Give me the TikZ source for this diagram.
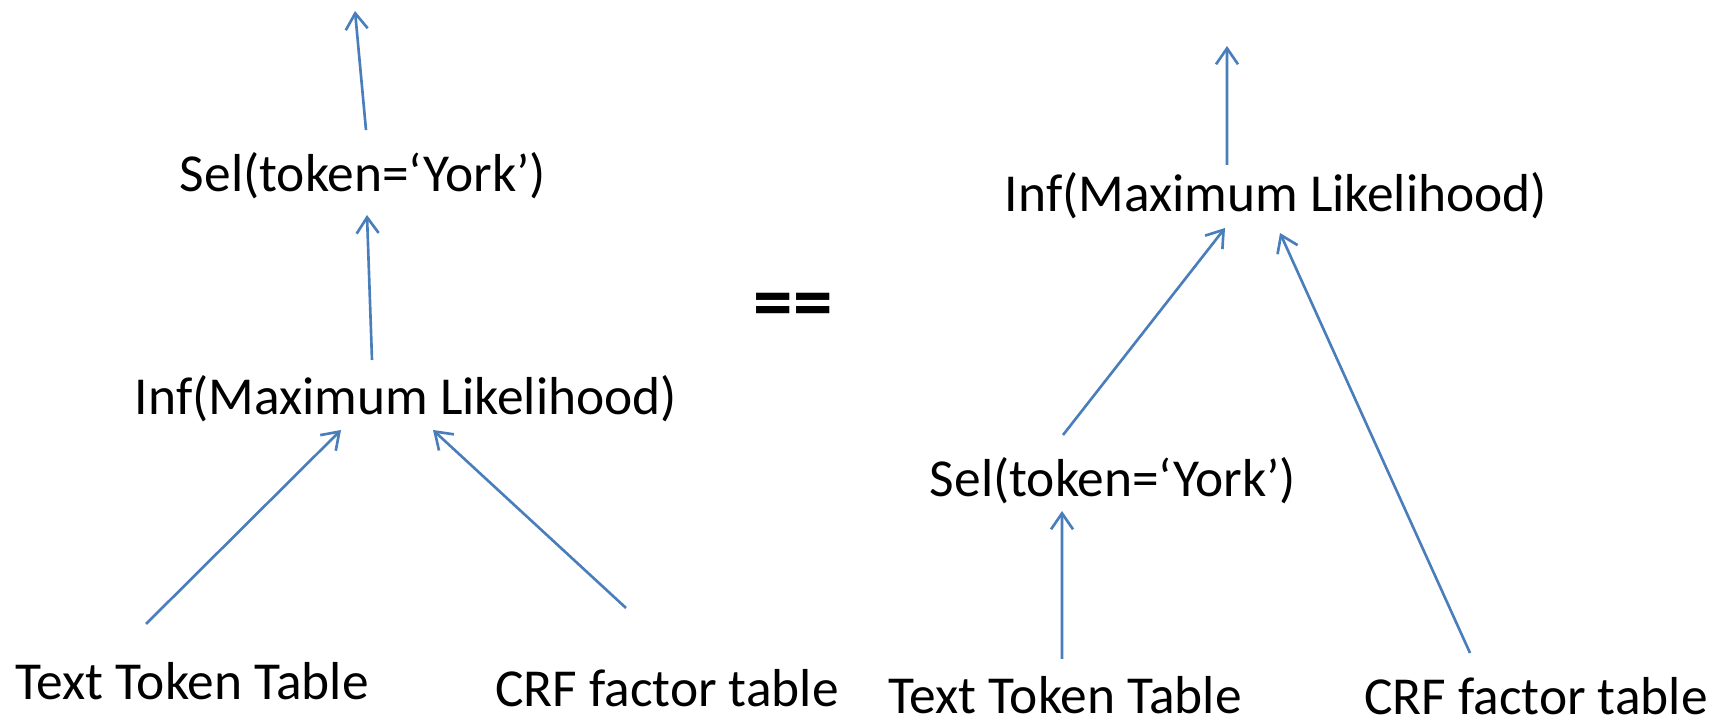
\documentclass[tikz,border=0pt]{standalone}
\usepackage{fontspec}
\setmainfont{Carlito}
\usepackage{tikz}
\usetikzlibrary{arrows.meta,calc}
\usepackage{xcolor}
\definecolor{planblue}{RGB}{74,126,187}
\tikzset{
  % ---- operators and tables ---------------------------------------------
  op/.style={font=\fontsize{15.2}{18}\selectfont, text=black, inner sep=0pt},
  tbl/.style={op},
  eqsign/.style={font=\bfseries\fontsize{22.5}{26}\selectfont, text=black, inner sep=0pt},
  % ---- arrows -----------------------------------------------------------
  ar/.style={-{Straight Barb[length=1.6mm,width=2.2mm]}, draw=planblue, line width=0.75pt},
}

\begin{document}
\begin{tikzpicture}[x=1cm,y=1cm]
\useasboundingbox (0,0) rectangle (17.27,-7.23);

% ============================ LEFT: select after inference ===============
\node[op]  (lsel)  at (3.63,-1.76) {Sel(token=‘York’)};
\node[op]  (linf)  at (4.06,-3.99) {Inf(Maximum Likelihood)};
\node[tbl] (ltext) at (1.92,-6.81) {Text Token Table};
\node[tbl] (lcrf)  at (6.67,-6.88) {CRF factor table};
\coordinate (ltop) at (3.55,-0.11);

\draw[ar] ($(lsel)+(0.03,0.46)$) -- (ltop);
\draw[ar] ($(linf)+(-0.34,0.39)$) -- ($(lsel)+(0.04,-0.39)$);
\draw[ar] ($(ltext)+(-0.46,0.57)$) -- ($(linf)+(-0.65,-0.31)$);
\draw[ar] ($(lcrf)+(-0.41,0.80)$) -- ($(linf)+(0.27,-0.31)$);

% equality
\node[eqsign] (eq) at (7.93,-3.11) {==};

% ============================ RIGHT: select pushed down =================
\node[op]  (rinf)  at (12.76,-1.96) {Inf(Maximum Likelihood)};
\node[op]  (rsel)  at (11.13,-4.81) {Sel(token=‘York’)};
\node[tbl] (rtext) at (10.65,-6.95) {Text Token Table};
\node[tbl] (rcrf)  at (15.36,-6.96) {CRF factor table};
\coordinate (rtop) at (12.27,-0.46);

\draw[ar] ($(rinf)+(-0.49,0.31)$) -- (rtop);
\draw[ar] ($(rsel)+(-0.50,0.46)$) -- ($(rinf)+(-0.51,-0.32)$);
\draw[ar] ($(rcrf)+(-0.66,0.43)$) -- ($(rinf)+(0.04,-0.37)$);
\draw[ar] ($(rtext)+(-0.03,0.36)$) -- ($(rsel)+(-0.51,-0.30)$);

\end{tikzpicture}
\end{document}
